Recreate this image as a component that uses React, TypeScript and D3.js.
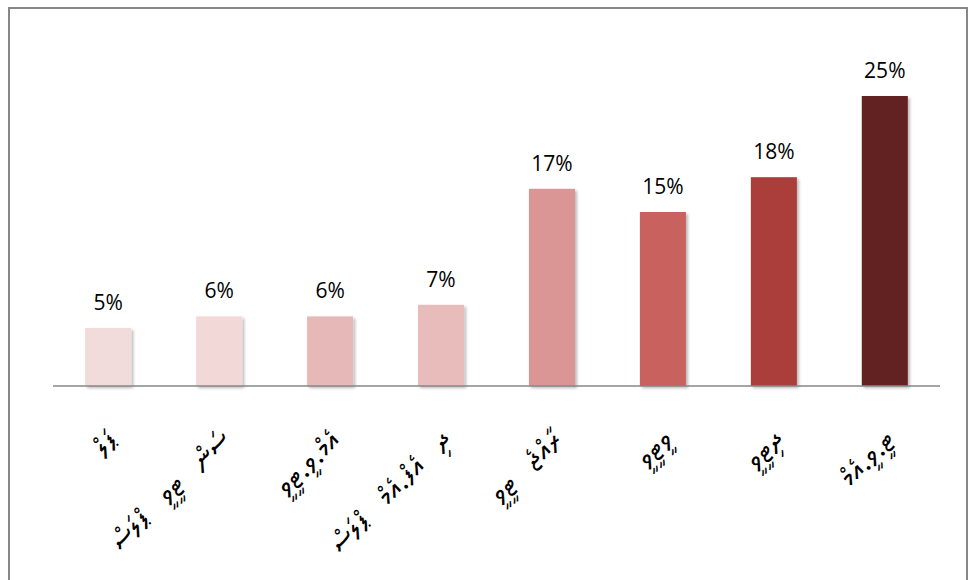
import React from 'react';
import * as d3 from 'd3';

// chart values
const categories = [
  'ޕަލް',
  'ސަން ޓީވީ ޕްލަސް',
  'އެމް.ވީ.ޓީވީ',
  'ދި އެފް.އެމް ޕްލަސް',
  'ރާއްޖެ ޓީވީ',
  'ވީޓީވީ',
  'ދިޓީވީ',
  'ޓީ.ވީ.އެމް',
];
const shares = [5, 6, 6, 7, 17, 15, 18, 25];
const barColors = ['#F2DCDB', '#F2D9D8', '#E6B9B8', '#E8BCBB', '#D99694', '#C9625F', '#AB3E3B', '#632423'];

const width = 976;
const height = 580;
const plot = { left: 53, right: 940, top: 38, bottom: 386 };

const App: React.FC = () => {
  const x = d3
    .scaleBand<string>()
    .domain(categories)
    .range([plot.left, plot.right])
    .paddingInner(0.585)
    .paddingOuter(0.29);

  const y = d3.scaleLinear().domain([0, 30]).range([plot.bottom, plot.top]);

  return (
    <svg
      width={width}
      height={height}
      style={{ position: 'absolute', left: 0, top: 0, background: '#fff' }}
    >
      <defs>
        <filter id="barShadow" x="-20%" y="-20%" width="140%" height="140%">
          <feDropShadow dx="2" dy="2" stdDeviation="1.6" floodColor="#000" floodOpacity="0.28" />
        </filter>
      </defs>

      {/* chart frame */}
      <rect x={9} y={8} width={958} height={590} fill="#fff" stroke="#878787" strokeWidth={2} />

      {shares.map((v, i) => {
        const cx = x(categories[i])! + x.bandwidth() / 2;
        return (
          <g key={categories[i]}>
            <rect
              x={x(categories[i])}
              y={y(v)}
              width={x.bandwidth()}
              height={y(0) - y(v)}
              fill={barColors[i]}
              filter="url(#barShadow)"
            />
            <text
              x={cx}
              y={y(v) - 18}
              textAnchor="middle"
              fontFamily="'Open Sans', 'Liberation Sans', sans-serif"
              fontSize={21}
              fill="#000"
            >
              {v}%
            </text>
          </g>
        );
      })}

      {/* baseline */}
      <line x1={plot.left} x2={plot.right} y1={y(0)} y2={y(0)} stroke="#878787" strokeWidth={1.5} />

      {/* category labels, rotated */}
      {categories.map((c) => {
        const tx = x(c)! + x.bandwidth() / 2 + 12;
        const ty = 442;
        return (
          <text
            key={c}
            transform={`translate(${tx},${ty}) rotate(-45)`}
            textAnchor="end"
            fontFamily="'Faruma', 'MV Boli', 'Noto Sans Thaana', 'DejaVu Sans', sans-serif"
            fontSize={29}
            fill="#000"
            style={{ wordSpacing: '14px' }}
          >
            {c}
          </text>
        );
      })}
    </svg>
  );
};

export default App;
